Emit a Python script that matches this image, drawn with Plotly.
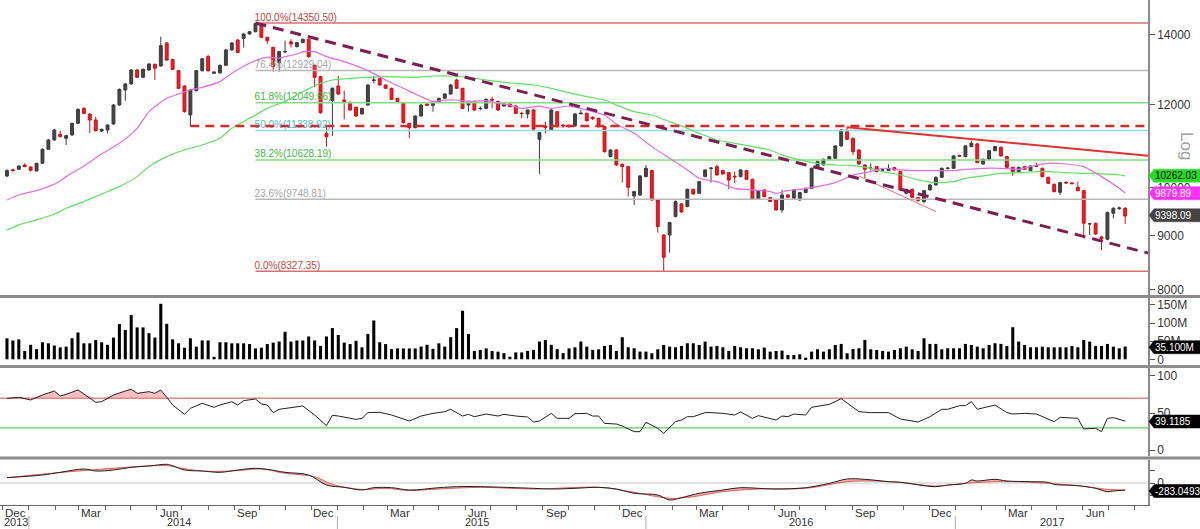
import numpy as np
import pandas as pd
import plotly.graph_objects as go

# ---------------- data (weekly candles) ----------------
opens = [10261,10400,10412,10510,10465,10375,10550,10879,11104,11243,11145,11226,11517,11900,11755,11601,11325,11350,11500,11989,
         12390,12555,12946,12740,12946,13108,13060,13736,13250,12927,12500,11730,12372,12927,13330,12852,12862,13080,13527,13827,
         13875,14010,14080,14300,13908,13606,13156,13470,13770,13626,13746,13847,13080,12758,11267,12103,12500,12121,12060,11928,
         11755,11989,12650,12702,12527,12436,12166,12033,11517,11408,11703,12015,11980,12060,12166,12282,12665,12436,11989,12085,
         11890,11900,12139,12085,11962,12015,11962,11772,11755,11858,11120,11450,11350,11815,11470,11460,11450,11765,11772,11670,
         11643,11433,10706,10863,10527,10473,9820,9842,10246,10382,9735,9015,9015,9386,9650,9594,9965,9878,10246,10430,
         10473,10382,10336,10255,10246,10382,10186,9756,9951,9785,9735,9524,9842,9770,9735,9893,9987,10435,10511,10644,
         10667,10959,11308,11145,10863,10511,10430,10473,10390,10382,10450,10359,9878,9965,9785,9700,9951,10060,10231,10430,
         10435,10730,10706,10943,11007,10534,10644,10847,10927,10706,10458,10359,10473,10382,10495,10435,10231,10075,9900,10120,
         10105,10010,9936,9236,9250,8977,8930,9455,9555,9559]
highs = [10412,10430,10500,10550,10480,10560,10900,11130,11370,11335,11230,11530,11900,11930,11780,11686,11380,11490,12010,12430,
         12580,12970,12970,12990,13140,13130,13928,13760,13270,12950,12520,12420,12950,13290,13380,12900,13100,13550,13760,13850,
         14030,14100,14350.5,14340,13930,13620,13500,13806,13850,13770,13870,13870,13100,12780,11450,12460,12777,12372,12080,11950,
         11920,12550,12777,12720,12540,12450,12180,12050,11530,11720,12010,12060,12080,12180,12300,12550,12700,12450,12100,12100,
         11950,12160,12210,12100,12030,12030,11980,11815,11870,11880,11300,11560,11880,11830,11500,11490,11780,11858,11790,11700,
         11660,11450,10880,10880,10540,10490,9930,10280,10511,10400,9750,9030,9280,9720,9670,9980,9980,10150,10410,10460,
         10520,10400,10350,10359,10410,10400,10200,9950,9970,9800,9750,9951,9860,9970,9910,10000,10450,10610,10660,10720,
         10980,11370,11433,11160,10880,10530,10550,10490,10420,10527,10470,10380,9980,9980,9800,9950,10080,10250,10450,10460,
         10740,10750,10980,11088,11030,10660,10860,10960,10945,10720,10470,10470,10490,10500,10566,10450,10245,10090,10130,10140,
         10125,10134,9950,9250,9260,8990,9490,9580,9594,9580]
lows = [10231,10350,10400,10460,10360,10360,10540,10870,11090,11170,10983,11210,11500,11750,11267,11310,11300,11267,11480,11970,
        12103,12540,12720,12720,12930,12665,13040,13200,12940,12410,11790,11450,12350,12900,12900,12840,12850,13060,13510,13430,
        13596,13990,14060,13880,13706,12899,12899,13428,13600,13600,13730,13300,12463,11760,10943,11200,12260,11618,11840,11680,
        11740,11970,12573,12510,12420,12120,12060,11510,11145,11390,11690,11960,11815,12040,12150,12260,12420,11880,11815,11840,
        11850,11880,11900,11840,11950,11930,11750,11643,11643,11340,10306,11267,11330,11410,11400,11400,11430,11740,11560,11600,
        11410,10800,10690,10490,10112,9806,9629,9820,10230,9720,9062,8327.35,8674,9370,9460,9580,9850,9860,10230,10112,
        10270,10290,9965,10097,10230,10170,9735,9740,9790,9690,9510,9469,9780,9750,9720,9880,9970,10420,10500,10630,
        10650,10940,11100,10745,10510,10208,10382,10340,10370,10370,10380,9930,9860,9770,9700,9664,9940,10050,10220,10410,
        10420,10700,10690,10930,10550,10520,10630,10830,10705,10440,10261,10340,10400,10370,10460,10230,10080,9900,9842,10090,
        10075,9920,8950,9015,9020,8720,8910,9352,9524,9236]
closes = [10382,10385,10488,10473,10390,10550,10879,11104,11350,11185,11210,11517,11876,11772,11601,11333,11367,11475,11989,12408,
          12555,12946,12740,12965,13118,12996,13656,13233,12965,12436,11815,12390,12927,13270,12927,12890,13080,13527,13736,13453,
          14010,14080,14330,13908,13806,13041,13477,13480,13706,13746,13847,13330,12740,11789,11185,12436,12282,12085,11858,11703,
          11900,12527,12665,12527,12436,12139,12085,11534,11408,11703,11989,11980,12060,12166,12282,12527,12436,11900,12085,11858,
          11900,12139,12121,11858,12015,11945,11772,11765,11858,11367,11283,11415,11858,11433,11450,11440,11755,11775,11584,11635,
          11433,10824,10863,10511,10473,10010,9914,10261,10435,9735,9183,8586,9264,9700,9483,9965,9864,10134,10397,10440,
          10283,10306,10171,10240,10397,10186,9749,9936,9806,9700,9524,9842,9792,9951,9893,9987,10435,10590,10644,10706,
          10959,11350,11120,10824,10534,10412,10440,10359,10400,10435,10397,9951,9965,9792,9721,9936,10060,10231,10435,10440,
          10722,10715,10959,11023,10566,10644,10847,10943,10722,10458,10359,10458,10412,10488,10480,10246,10097,9914,10112,10105,
          10090,9936,9250,9240,9035,8938,9469,9559,9565,9398.09]
volume_m = [58,52,55,23,40,28,47,44,38,33,35,58,74,44,44,53,47,40,60,97,
            81,122,88,88,72,60,153,98,55,44,32,58,35,52,52,7,47,47,44,44,
            44,42,30,32,42,46,49,76,49,52,52,63,52,37,63,86,67,46,42,51,
            33,70,107,47,42,28,30,30,30,30,35,40,29,44,35,61,86,134,70,23,
            26,30,23,21,17,7,19,19,23,26,49,53,40,28,17,30,33,49,35,26,
            27.6,36.8,39.6,23,60.8,33.1,30.4,21.2,21.2,16.6,27.6,39.6,35,33.1,36.8,44.2,44.2,39.6,48.8,35,
            36.8,33.1,23,36.8,33.1,30.4,30.4,27.6,32.2,21.2,23,23.9,12,12,13.8,4.6,21.2,27.6,21.2,27.6,
            39.6,42.4,16.6,28.5,30.4,53.4,27.6,25.8,23,21.2,25.8,30.4,35,27.6,23,58,42.4,42.4,27.6,30.4,
            30.4,30.4,42.4,39.6,35,30.4,39.6,44.2,42.4,36.8,88.4,48.8,39.6,33.1,33.1,35,33.1,33.1,33.1,33.1,
            36.8,33.1,53.4,48.8,36.8,36.8,42.4,35,30.4,35.1]

# moving averages (week index, value)
ma_fast_idx = [0,2,5,8,10,13,16,19,22,24,27,29,31,33,36,38,41,44,46,47,49,50,52,54,57,61,64,67,69,72,74,76,78,81,83,85,87,90,92,95,
               98,101,103,106,109,112,115,117,120,123,126,129,130,132,134,137,140,143,146,148,151,154,157,160,162,165,168,171,174,176,
               179,182,185,188,189]
ma_fast = [9735,9842,9936,10075,10246,10488,10769,11023,11391,11815,12166,12282,12390,12463,12619,12852,13137,13315,13285,13330,
           13408,13477,13477,13330,13185,12927,12665,12436,12282,12085,12121,12121,12085,12103,12033,11989,11900,11962,11900,11962,
           11858,11729,11500,11267,10943,10667,10397,10208,10134,9987,9951,9914,9878,9936,9965,10024,10112,10283,10359,10435,
           10397,10382,10382,10382,10412,10435,10435,10412,10511,10550,10534,10473,10246,9987,9879.89]
ma_slow_idx = [0,2,5,8,10,13,16,19,22,24,27,30,33,36,38,41,44,47,50,53,55,58,61,64,69,72,75,78,81,83,86,89,92,95,98,101,103,106,109,
               112,115,117,120,123,126,129,131,134,137,140,143,146,148,151,154,157,160,162,165,168,171,174,176,179,182,185,188,189]
ma_slow = [9116,9218,9318,9434,9559,9700,9864,10024,10246,10473,10706,10863,10983,11145,11391,11643,11900,12085,12345,12573,
           12665,12712,12740,12758,12740,12777,12777,12740,12665,12619,12573,12527,12436,12318,12210,12121,11989,11815,11729,
           11559,11391,11267,11104,11023,10943,10863,10745,10628,10550,10511,10496,10435,10359,10283,10171,10112,10134,10208,
           10261,10321,10336,10359,10359,10336,10321,10306,10283,10262.03]

# RSI (week index, value)
rsi_idx = [0,2,4,6,8,9,10,12,13,15,16,18,20,21,22,24,25,26,27,28,30,31,33,35,36,38,39,40,42,43,44,45,46,50,52,54,55,56,59,60,
           61,63,65,68,70,72,74,75,77,78,79,81,83,84,86,88,89,90,92,93,95,96,98,99,100,101,103,104,106,107,108,110,111,113,114,
           115,116,118,119,121,123,124,126,127,130,131,132,133,135,136,139,141,144,146,149,151,154,156,158,159,161,162,163,164,
           167,169,170,172,174,177,178,181,182,184,185,186,187,189]
rsi = [69.8,71.2,67.6,74.3,79.7,73.0,75.2,81.1,75.7,64.4,65.3,74.3,79.7,82.0,76.6,78.8,76.6,81.1,71.2,60.8,48.2,56.3,63.1,57.7,
       60.8,65.3,60.8,66.7,68.9,62.2,60.8,50.5,55.0,59.5,47.3,32.9,46.8,45.9,41.4,42.8,50.5,50.9,47.3,39.2,45.9,49.5,51.8,55.0,
       45.9,48.2,45.0,48.6,45.9,48.2,45.9,44.6,37.8,39.2,49.5,42.8,42.8,49.1,49.5,45.9,45.9,36.0,35.1,32.4,24.8,24.8,37.4,29.3,
       22.5,38.3,40.5,45.0,45.0,50.5,50.5,49.5,47.3,51.4,42.8,46.4,40.5,45.9,45.0,48.6,47.3,57.7,61.7,69.4,51.8,50.5,50.5,41.9,
       37.8,45.0,55.0,55.0,59.9,59.9,65.3,55.0,60.8,50.5,48.6,49.5,48.6,38.3,44.1,42.8,28.4,29.3,24.8,42.8,43.7,39.1185]

# MACD (week index, value)
macd_idx = [0,6,9,13,15,18,21,24,27,28,30,33,36,39,42,44,47,51,54,57,60,62,65,68,73,76,80,86,89,92,96,100,103,106,110,112,114,
            117,121,124,127,130,135,139,142,145,149,151,155,157,159,162,163,164,167,169,173,176,177,181,184,186,187,189]
macd = [213,320,427,560,480,520,627,680,747,693,520,480,427,520,587,547,427,320,-80,-173,-280,-187,-187,-280,-187,-147,-147,
        -187,-213,-240,-213,-173,-240,-413,-480,-680,-587,-413,-280,-187,-213,-240,-187,-13,160,147,53,27,-107,-147,-80,-13,120,
        80,147,80,53,27,-53,-107,-213,-347,-320,-283.0493]
signal_idx = [0,12,27,29,33,38,43,47,52,55,60,64,68,73,80,89,100,106,112,116,121,127,135,142,146,151,157,162,167,173,181,186,189]
signal = [213,480,693,613,480,480,560,387,253,-53,-260,-213,-300,-240,-173,-240,-173,-373,-613,-547,-347,-240,-213,53,80,27,
          -120,-13,53,27,-107,-253,-280]

# reference levels
fib_pct = ['100.0%', '76.4%', '61.8%', '50.0%', '38.2%', '23.6%', '0.0%']
fib_values = [14350.50, 12929.04, 12049.66, 11338.92, 10628.19, 9748.81, 8327.35]
support_level = 11450
downtrend_values = [14350.5, 8665]
resistance_values = [11415, 10728]
minor_trend_values = [10260, 9490]

month_label_dates = ['2013-12-16', '2014-03-16', '2014-06-16', '2014-09-16', '2014-12-16', '2015-03-16', '2015-06-16',
                     '2015-09-16', '2015-12-16', '2016-03-16', '2016-06-16', '2016-09-16', '2016-12-16', '2017-03-16',
                     '2017-06-16']
month_labels = ['Dec', 'Mar', 'Jun', 'Sep', 'Dec', 'Mar', 'Jun', 'Sep', 'Dec', 'Mar', 'Jun', 'Sep', 'Dec', 'Mar', 'Jun']
year_labels = ['2013', '2014', '2015', '2016', '2017']
year_label_dates = ['2013-12-17', '2014-06-28', '2015-06-15', '2016-07-03', '2017-04-25']
year_starts = ['2014-01-01', '2015-01-01', '2016-01-01', '2017-01-01']

main_ticks = [8000, 9000, 10000, 12000, 14000]
vol_ticks = [0, 50e6, 100e6, 150e6]
vol_ticktext = ['0', '50M', '100M', '150M']

# ---------------- figure ----------------
dates = pd.date_range('2013-12-06', periods=len(closes), freq='7D')
x_start = pd.Timestamp('2013-11-27 18:00')
x_end = pd.Timestamp('2017-08-17')

W, H = 1200, 529
ML, MR, MT, MB = 0, 52, 0, 24
PH = H - MT - MB  # plot height in px (505)
PW = W - ML - MR  # 1148


def yp(px):
    return (PH - px) / PH


def xp(px):
    return px / PW


FONT = 'Liberation Sans, Arial, sans-serif'
fig = go.Figure()

# fib levels
fib_line_cols = ['#d87070', '#b8b8b8', '#86dc86', '#8fdcec', '#86dc86', '#b8b8b8', '#d87070']
fib_text_cols = ['#cc4444', '#a8a8a8', '#44bb44', '#44bbdd', '#44bb44', '#a8a8a8', '#cc4444']
for pct, val, lc, tc in zip(fib_pct, fib_values, fib_line_cols, fib_text_cols):
    fig.add_trace(go.Scatter(x=[dates[42], x_end], y=[val, val], mode='lines',
                             line=dict(color=lc, width=1.5), yaxis='y', hoverinfo='skip'))
    fig.add_trace(go.Scatter(x=[dates[42] - pd.Timedelta(days=1)], y=[val], mode='text',
                             text=[f'{pct}({val:.2f})'], textposition='top right',
                             textfont=dict(color=tc, size=10, family=FONT), yaxis='y', hoverinfo='skip'))

# moving averages
fig.add_trace(go.Scatter(x=dates[ma_slow_idx], y=ma_slow, mode='lines', line=dict(color='#66dd66', width=1.2, shape='spline', smoothing=0.6),
                         yaxis='y', hoverinfo='skip'))
fig.add_trace(go.Scatter(x=dates[ma_fast_idx], y=ma_fast, mode='lines', line=dict(color='#e070e0', width=1.2, shape='spline', smoothing=0.6),
                         yaxis='y', hoverinfo='skip'))

# candles
fig.add_trace(go.Candlestick(x=dates, open=opens, high=highs, low=lows, close=closes,
                             increasing=dict(line=dict(color='#3c3c3c', width=1), fillcolor='#444444'),
                             decreasing=dict(line=dict(color='#d01018', width=1), fillcolor='#ee1c24'),
                             whiskerwidth=0, yaxis='y', hoverinfo='skip'))

# trend lines
fig.add_trace(go.Scatter(x=[dates[31], x_end], y=[support_level, support_level], mode='lines',
                         line=dict(color='#d42a2a', width=2.5, dash='9px,6px'), yaxis='y', hoverinfo='skip'))
fig.add_trace(go.Scatter(x=[dates[142], x_end], y=resistance_values, mode='lines',
                         line=dict(color='#dd3333', width=2), yaxis='y', hoverinfo='skip'))
fig.add_trace(go.Scatter(x=[dates[144], dates[157]], y=minor_trend_values, mode='lines',
                         line=dict(color='#e07878', width=1), yaxis='y', hoverinfo='skip'))
fig.add_trace(go.Scatter(x=[dates[42], x_end], y=downtrend_values, mode='lines',
                         line=dict(color='#7a1f4f', width=3, dash='11px,7px'), yaxis='y', hoverinfo='skip'))

# volume
fig.add_trace(go.Bar(x=dates, y=[v * 1e6 for v in volume_m], marker=dict(color='#000000', line=dict(width=0)),
                     width=3.6 * 86400000, yaxis='y2', hoverinfo='skip'))

# RSI
rsi_dates = dates[rsi_idx]
fig.add_trace(go.Scatter(x=rsi_dates, y=[70] * len(rsi), mode='lines', line=dict(width=0), yaxis='y3', hoverinfo='skip'))
fig.add_trace(go.Scatter(x=rsi_dates, y=np.maximum(rsi, 70), mode='lines', line=dict(width=0), fill='tonexty',
                         fillcolor='rgba(240,150,150,0.6)', yaxis='y3', hoverinfo='skip'))
fig.add_trace(go.Scatter(x=[x_start, x_end], y=[70, 70], mode='lines', line=dict(color='#e08888', width=1.5),
                         yaxis='y3', hoverinfo='skip'))
fig.add_trace(go.Scatter(x=[x_start, x_end], y=[30, 30], mode='lines', line=dict(color='#66cc66', width=1.2),
                         yaxis='y3', hoverinfo='skip'))
fig.add_trace(go.Scatter(x=rsi_dates, y=rsi, mode='lines', line=dict(color='#222222', width=1), yaxis='y3', hoverinfo='skip'))

# MACD
fig.add_trace(go.Scatter(x=[x_start, x_end], y=[0, 0], mode='lines', line=dict(color='#c8c8c8', width=1),
                         yaxis='y4', hoverinfo='skip'))
fig.add_trace(go.Scatter(x=dates[signal_idx], y=signal, mode='lines', line=dict(color='#e06060', width=1, shape='spline'),
                         yaxis='y4', hoverinfo='skip'))
fig.add_trace(go.Scatter(x=dates[macd_idx], y=macd, mode='lines', line=dict(color='#222222', width=1, shape='spline'),
                         fill='tonexty', fillcolor='rgba(240,120,120,0.6)', yaxis='y4', hoverinfo='skip'))

axis_common = dict(side='right', anchor='x', showgrid=False, zeroline=False, showline=True, linecolor='#8a8a8a',
                   linewidth=1.5, ticks='outside', ticklen=5, tickcolor='#555', tickfont=dict(size=12, color='#333', family=FONT))

fig.update_layout(
    width=W, height=H, margin=dict(l=ML, r=MR, t=MT, b=MB), paper_bgcolor='white', plot_bgcolor='white',
    showlegend=False, boxgap=0.3,
    xaxis=dict(domain=[0, 1], range=[x_start, x_end], type='date', anchor='y4', showgrid=False, zeroline=False,
               showline=True, linecolor='#666', linewidth=1, ticks='outside', ticklen=4, tickcolor='#666',
               tickmode='linear', tick0='2013-12-01', dtick='M1', showticklabels=False,
               rangeslider=dict(visible=False)),
    yaxis=dict(domain=[yp(295), 1], type='log', range=[np.log10(7903), np.log10(15094)],
               tickvals=main_ticks, ticktext=[str(t) for t in main_ticks], **axis_common),
    yaxis2=dict(domain=[yp(365), yp(298)], range=[-15.7e6, 169e6], tickvals=vol_ticks, ticktext=vol_ticktext, **axis_common),
    yaxis3=dict(domain=[yp(456), yp(368)], range=[-8.1, 110.8], tickvals=[0, 50, 100], **axis_common),
    yaxis4=dict(domain=[0, yp(460)], range=[-880, 920], tickvals=[-500, 0, 500], ticktext=['', '0', ''], **axis_common),
)

shapes = []
for sep in [296.5, 366.5, 458]:
    shapes.append(dict(type='line', xref='paper', yref='paper', x0=0, x1=W / PW, y0=yp(sep), y1=yp(sep),
                       line=dict(color='#8c8c8c', width=3), layer='above'))
for ys in year_starts:
    shapes.append(dict(type='line', xref='x', yref='paper', x0=ys, x1=ys, y0=yp(516), y1=yp(529),
                       line=dict(color='#aaaaaa', width=1)))

annotations = []
for d, m in zip(month_label_dates, month_labels):
    annotations.append(dict(x=d, y=yp(512.5), xref='x', yref='paper', text=m, showarrow=False,
                            font=dict(size=11.5, color='#333', family=FONT), yanchor='middle'))
for d, yl in zip(year_label_dates, year_labels):
    annotations.append(dict(x=d, y=yp(521.5), xref='x', yref='paper', text=yl, showarrow=False,
                            font=dict(size=11, color='#333', family=FONT), yanchor='middle'))

# right-side value labels
value_labels = [
    (175.7, '#22dd22', f'{ma_slow[-1]:.2f}', '#000000'),
    (193.3, '#ff33ff', f'{ma_fast[-1]:.2f}', '#ffffff'),
    (215.3, '#444444', f'{closes[-1]:.2f}', '#ffffff'),
    (347.2, '#000000', f'{volume_m[-1]:.3f}M', '#ffffff'),
    (421.5, '#000000', f'{rsi[-1]:.4f}', '#ffffff'),
    (491.0, '#000000', f'{macd[-1]:.4f}', '#ffffff'),
]
for yc, col, txt, tcol in value_labels:
    h = 6.5
    path = (f'M {xp(1149)},{yp(yc)} L {xp(1154)},{yp(yc - h)} L {xp(1200)},{yp(yc - h)} '
            f'L {xp(1200)},{yp(yc + h)} L {xp(1154)},{yp(yc + h)} Z')
    shapes.append(dict(type='path', xref='paper', yref='paper', path=path, fillcolor=col,
                       line=dict(color=col, width=0.5), layer='above'))
    annotations.append(dict(x=xp(1153), y=yp(yc), xref='paper', yref='paper', text=txt, showarrow=False,
                            xanchor='left', yanchor='middle', font=dict(size=10, color=tcol, family=FONT)))

annotations.append(dict(x=xp(1187), y=yp(146), xref='paper', yref='paper', text='Log', showarrow=False,
                        xanchor='center', yanchor='middle', textangle=90,
                        font=dict(size=17, color='#a0a0a0', family=FONT)))

fig.update_layout(shapes=shapes, annotations=annotations)
fig.write_html('out.html')
